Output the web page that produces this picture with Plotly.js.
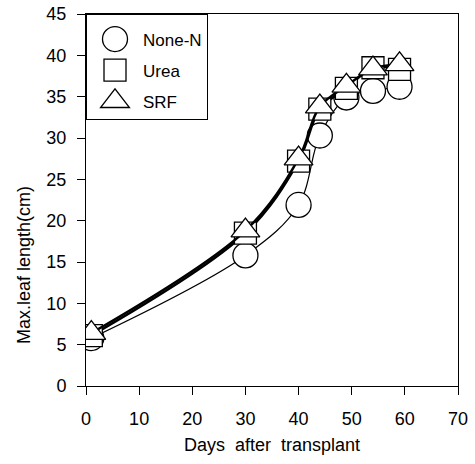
<!DOCTYPE html>
<html><head><meta charset="utf-8">
<script src="https://cdn.plot.ly/plotly-3.0.1.min.js"></script>
<style>body{margin:0;background:#fff}#c{width:475px;height:464px}</style>
</head><body><div id="c"></div>
<script>
const days = [1, 30, 40, 44, 49, 54, 59];
const noneN = [5.8, 15.8, 21.9, 30.3, 34.9, 35.7, 36.2];
const urea  = [6.1, 18.5, 27.2, 33.5, 36.0, 38.5, 38.3];
const srf   = [6.4, 18.8, 27.5, 33.8, 36.3, 38.4, 38.9];
const seriesNames = ["None-N", "Urea", "SRF"];
const xTicks = [0, 10, 20, 30, 40, 50, 60, 70];
const yTicks = [0, 5, 10, 15, 20, 25, 30, 35, 40, 45];

const series = [
  {name: seriesNames[0], y: noneN, sym: 'circle', lw: 1.2, ms: 25},
  {name: seriesNames[1], y: urea, sym: 'square', lw: 2.5, ms: 22},
  {name: seriesNames[2], y: srf, sym: 'triangle-up', lw: 2.5, ms: 25}
];
const data = [];
series.forEach((s, i) => {
  data.push({x: days, y: s.y, name: s.name, type: 'scatter', mode: 'lines+markers',
    showlegend: false, legendgroup: 'g' + i,
    line: {color: '#000', width: s.lw, shape: 'spline', smoothing: 1},
    marker: {symbol: s.sym, size: s.ms, color: '#fff', line: {color: '#000', width: 1.3}}});
});
series.forEach((s, i) => {
  data.push({x: [null], y: [null], name: s.name, type: 'scatter', mode: 'markers',
    showlegend: true, legendgroup: 'g' + i,
    marker: {symbol: s.sym, size: s.ms, color: '#fff', line: {color: '#000', width: 1.3}}});
});
const FAM = 'Liberation Sans, Arial, sans-serif';
const font = {family: FAM, size: 18, color: '#000'};
const layout = {
  width: 475, height: 464,
  margin: {l: 86, r: 17, t: 14, b: 78},
  paper_bgcolor: '#fff', plot_bgcolor: '#fff',
  font: font, showlegend: true,
  legend: {x: 0, y: 1, xanchor: 'left', yanchor: 'top', bordercolor: '#000', borderwidth: 1,
    bgcolor: '#fff', font: {family: FAM, size: 17, color: '#000'},
    title: {text: '\u00a0', font: {family: FAM, size: 5}},
    itemwidth: 46, tracegroupgap: 6, traceorder: 'grouped', itemsizing: 'trace'},
  xaxis: {range: [0, 70], tickvals: xTicks, ticks: 'outside', ticklen: 8, tickcolor: '#000',
    ticklabelstandoff: 8,
    showline: true, linecolor: '#000', linewidth: 1, mirror: true, showgrid: false, zeroline: false,
    title: {text: 'Days\u00a0\u00a0after\u00a0\u00a0transplant', font: font, standoff: 10}},
  yaxis: {range: [0, 45], tickvals: yTicks, ticks: 'outside', ticklen: 8, tickcolor: '#000',
    ticklabelstandoff: 7,
    showline: true, linecolor: '#000', linewidth: 1, mirror: true, showgrid: false, zeroline: false},
  annotations: [{text: 'Max.leaf length(cm)', xref: 'paper', yref: 'paper', x: -0.167, y: 0.325,
    xanchor: 'center', yanchor: 'middle', textangle: -90, showarrow: false, font: font}]
};
Plotly.newPlot('c', data, layout, {displayModeBar: false, staticPlot: true}).then(gd => {
  // enlarge legend glyphs to match the plotted marker sizes (Plotly caps them at 16px)
  gd.querySelectorAll('.legend .traces').forEach((g, i) => {
    const s = series[i]; if (!s) return;
    const k = s.ms / 16;
    g.querySelectorAll('.legendpoints path.scatterpts').forEach(p => {
      const t = p.getAttribute('transform') || '';
      p.setAttribute('transform', t + ' scale(' + k + ')');
      p.style.strokeWidth = (1.3 / k) + 'px';
    });
  });
});
</script></body></html>
